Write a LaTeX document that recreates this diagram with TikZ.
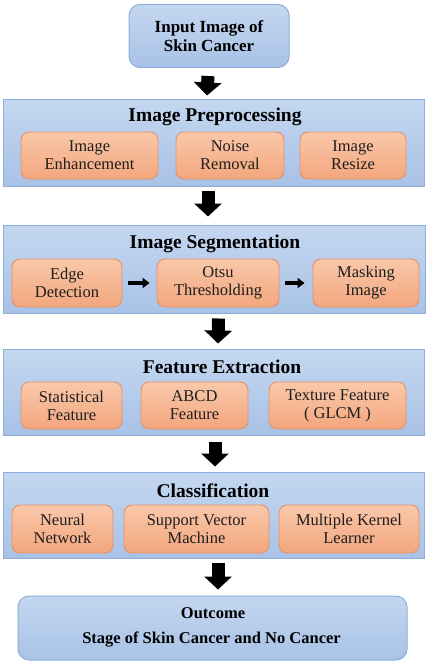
\documentclass[tikz,border=0pt]{standalone}
\usepackage{fontspec}
\setmainfont{Liberation Serif}
\newfontfamily\subfont{Liberation Serif}
\usetikzlibrary{arrows.meta,calc}
\definecolor{bluetop}{HTML}{C4D7F0}
\definecolor{bluebot}{HTML}{A8C2E6}
\definecolor{blueedge}{HTML}{8DAEDB}
\definecolor{ortop}{HTML}{F9C8AA}
\definecolor{orbot}{HTML}{F3A67D}
\definecolor{oredge}{HTML}{E3916A}
\definecolor{txt}{HTML}{1E1E1E}
\tikzset{
  panel/.style={draw=blueedge, line width=1pt, top color=bluetop, bottom color=bluebot, inner sep=0pt},
  rpanel/.style={panel, rounded corners=11pt},
  subbox/.style={draw=oredge, line width=0.9pt, top color=ortop, bottom color=orbot, rounded corners=8pt,
     inner sep=0pt, align=center, text=txt, font=\subfont\fontsize{16.5}{18}\selectfont},
  ptitle/.style={font=\fontsize{19.5}{22}\selectfont\bfseries, inner sep=0pt},
  bigarrow/.style={line width=13pt, -{Triangle[width=27pt,length=13pt]}},
  smallarrow/.style={line width=4pt, -{Triangle[width=10pt,length=7pt]}},
}
\begin{document}
\begin{tikzpicture}[x=1pt,y=-1pt]
\useasboundingbox (0,0) rectangle (429,661);
% input
\node[rpanel, minimum width=160pt, minimum height=63pt, align=center,
  font=\fontsize{17}{19.5}\selectfont\bfseries] (in) at (209,36) {Input Image of\\Skin Cancer};
% panel 1
\node[panel, minimum width=421pt, minimum height=87pt] (p1) at (214,142.5) {};
\node[ptitle] (t1) at (215,117) {Image Preprocessing};
\node[subbox, minimum width=137pt, minimum height=47pt] (ie) at (89.5,155.5) {Image\\Enhancement};
\node[subbox, minimum width=108pt, minimum height=47pt] (nr) at (230,155.5) {Noise\\Removal};
\node[subbox, minimum width=106pt, minimum height=47pt] (ir) at (353,155.5) {Image\\Resize};
% panel 2
\node[panel, minimum width=422pt, minimum height=88pt] (p2) at (214.5,269) {};
\node[ptitle] (t2) at (215,244) {Image Segmentation};
\node[subbox, minimum width=110pt, minimum height=48pt] (ed) at (67,283) {Edge\\Detection};
\node[subbox, minimum width=122pt, minimum height=48pt] (ot) at (218,283) {Otsu\\Thresholding};
\node[subbox, minimum width=106pt, minimum height=48pt] (mi) at (366,283) {Masking\\Image};
% panel 3
\node[panel, minimum width=421pt, minimum height=86pt] (p3) at (214,392) {};
\node[ptitle] (t3) at (222,367) {Feature Extraction};
\node[subbox, minimum width=101pt, minimum height=47pt] (sf) at (71.5,405.5) {Statistical\\Feature};
\node[subbox, minimum width=107pt, minimum height=47pt] (af) at (194.5,405.5) {ABCD\\Feature};
\node[subbox, minimum width=137pt, minimum height=47pt] (tf) at (337.5,405.5) {Texture Feature\\(~GLCM~)};
% panel 4
\node[panel, minimum width=421pt, minimum height=86pt] (p4) at (214,515) {};
\node[ptitle] (t4) at (213,491) {Classification};
\node[subbox, minimum width=101pt, minimum height=48pt] (nn) at (62.5,529) {Neural\\Network};
\node[subbox, minimum width=145pt, minimum height=48pt] (sv) at (196.5,529) {Support Vector\\Machine};
\node[subbox, minimum width=140pt, minimum height=48pt] (mk) at (349,529) {Multiple Kernel\\Learner};
% outcome
\node[rpanel, minimum width=389pt, minimum height=64pt] (out) at (212.5,628) {};
\node[font=\fontsize{16.5}{19}\selectfont\bfseries, inner sep=0pt] (o1) at (213,613) {Outcome};
\node[font=\fontsize{16.5}{19}\selectfont\bfseries, inner sep=0pt] (o2) at (211.5,640) {Stage of Skin Cancer and No Cancer};
% arrows
\draw[bigarrow] ($(in.south)+(-1,8)$) -- ($(p1.north)+(-7,-3)$);
\draw[bigarrow] ($(p1.south)+(-6,4)$) -- ($(p2.north)+(-6.5,-8)$);
\draw[bigarrow] ($(p2.south)+(4,5)$) -- ($(p3.north)+(4,-5)$);
\draw[bigarrow] ($(p3.south)+(1,6)$) -- ($(p4.north)+(1,-5)$);
\draw[bigarrow] ($(p4.south)+(4,4)$) -- ($(out.north)+(5.5,-6)$);
\draw[smallarrow] ($(ed.east)+(6,0)$) -- ($(ot.west)+(-7,0)$);
\draw[smallarrow] ($(ot.east)+(6,0)$) -- ($(mi.west)+(-8,0)$);
\end{tikzpicture}
\end{document}
